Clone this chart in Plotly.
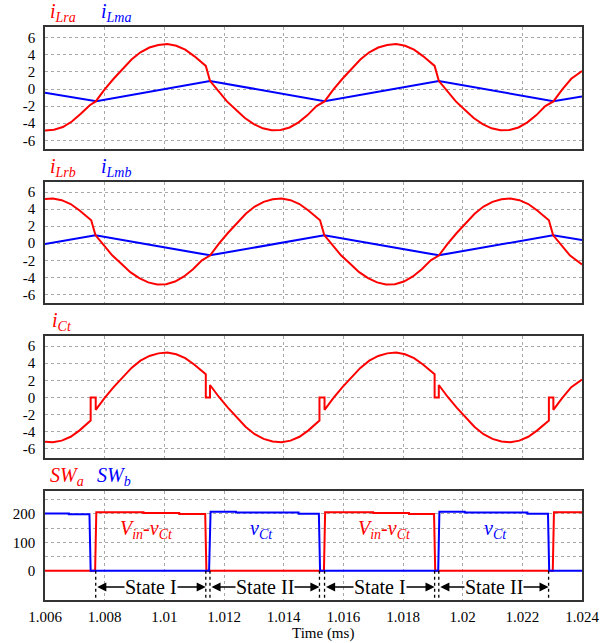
import plotly.graph_objects as go

# ---------------- data ----------------
x_ticks = [1.006, 1.008, 1.010, 1.012, 1.014, 1.016, 1.018, 1.020, 1.022, 1.024]
x_tick_labels = ["1.006", "1.008", "1.01", "1.012", "1.014", "1.016", "1.018", "1.02", "1.022", "1.024"]
i_ticks = [-6, -4, -2, 0, 2, 4, 6]
i_tick_labels = ["-6", "-4", "-2", "0", "2", "4", "6"]
v_ticks = [0, 50, 100, 150, 200, 250]
v_tick_labels = ["0", "", "100", "", "200", ""]

t_ilra = [1.006, 1.0063, 1.0066, 1.0069, 1.0072, 1.0075,
          1.0077, 1.008, 1.0083, 1.0086, 1.0089, 1.0092, 1.0095, 1.0098, 1.0101, 1.0104, 1.0107, 1.011, 1.0112, 1.01139,
          1.01153, 1.0118, 1.0121, 1.0124, 1.0127, 1.013, 1.0133, 1.0136, 1.0139, 1.0142, 1.0145, 1.0148, 1.0151,
          1.01537, 1.01567, 1.01597, 1.01627, 1.01657, 1.01687, 1.01717, 1.01747, 1.01777, 1.01807, 1.01837, 1.01867, 1.01887, 1.01906,
          1.0192, 1.01947, 1.01977, 1.02007, 1.02037, 1.02067, 1.02097, 1.02127, 1.02157, 1.02187, 1.02217, 1.02247, 1.02277,
          1.02304, 1.02334, 1.02364, 1.024]
i_lra = [-4.85, -4.76, -4.45, -3.8, -2.9, -1.9,
         -1.45, -0.05, 1.2, 2.35, 3.45, 4.3, 4.85, 5.15, 5.25, 5.05, 4.6, 3.85, 3.2, 2.7,
         0.95, -0.2, -1.45, -2.42, -3.4, -4.1, -4.6, -4.83, -4.8, -4.5, -3.9, -3.05, -2.0,
         -1.45, -0.05, 1.2, 2.35, 3.45, 4.3, 4.85, 5.15, 5.25, 5.05, 4.6, 3.85, 3.2, 2.7,
         0.95, -0.2, -1.45, -2.42, -3.4, -4.1, -4.6, -4.83, -4.8, -4.5, -3.9, -3.05, -2.0,
         -1.45, -0.05, 1.2, 2.1]

t_ilma = [1.006, 1.00772, 1.01153, 1.01537, 1.0192, 1.02304, 1.024]
i_lma = [-0.45, -1.42, 0.93, -1.42, 0.93, -1.42, -0.88]

t_ilrb = [1.006, 1.00626, 1.00656, 1.00686, 1.00716, 1.00736, 1.00755,
          1.00769, 1.00796, 1.00826, 1.00856, 1.00886, 1.00916, 1.00946, 1.00976, 1.01006, 1.01036, 1.01066, 1.01096, 1.01126,
          1.01153, 1.01183, 1.01213, 1.01243, 1.01273, 1.01303, 1.01333, 1.01363, 1.01393, 1.01423, 1.01453, 1.01483, 1.01503, 1.01522,
          1.01536, 1.01563, 1.01593, 1.01623, 1.01653, 1.01683, 1.01713, 1.01743, 1.01773, 1.01803, 1.01833, 1.01863, 1.01893,
          1.0192, 1.0195, 1.0198, 1.0201, 1.0204, 1.0207, 1.021, 1.0213, 1.0216, 1.0219, 1.0222, 1.0225, 1.0227, 1.02289,
          1.02303, 1.0233, 1.0236, 1.024]
i_lrb = [5.2, 5.25, 5.05, 4.6, 3.85, 3.2, 2.7,
         0.95, -0.2, -1.45, -2.42, -3.4, -4.1, -4.6, -4.83, -4.8, -4.5, -3.9, -3.05, -2.0,
         -1.45, -0.05, 1.2, 2.35, 3.45, 4.3, 4.85, 5.15, 5.25, 5.05, 4.6, 3.85, 3.2, 2.7,
         0.95, -0.2, -1.45, -2.42, -3.4, -4.1, -4.6, -4.83, -4.8, -4.5, -3.9, -3.05, -2.0,
         -1.45, -0.05, 1.2, 2.35, 3.45, 4.3, 4.85, 5.15, 5.25, 5.05, 4.6, 3.85, 3.2, 2.7,
         0.95, -0.2, -1.45, -2.5]

t_ilmb = [1.006, 1.00769, 1.01153, 1.01536, 1.0192, 1.02303, 1.024]
i_lmb = [-0.08, 0.93, -1.42, 0.93, -1.42, 0.93, 0.38]

t_ict = [1.006, 1.00626, 1.00656, 1.00686, 1.00716, 1.00736, 1.00753, 1.00753, 1.0077, 1.0077,
         1.008, 1.0083, 1.0086, 1.0089, 1.0092, 1.0095, 1.0098, 1.0101, 1.0104, 1.0107, 1.011, 1.0112, 1.01139,
         1.01139, 1.01153, 1.01153,
         1.01183, 1.01213, 1.01243, 1.01273, 1.01303, 1.01333, 1.01363, 1.01393, 1.01423, 1.01453, 1.01483, 1.01503, 1.0152,
         1.0152, 1.01537, 1.01537,
         1.01567, 1.01597, 1.01627, 1.01657, 1.01687, 1.01717, 1.01747, 1.01777, 1.01807, 1.01837, 1.01867, 1.01887, 1.01906,
         1.01906, 1.0192, 1.0192,
         1.0195, 1.0198, 1.0201, 1.0204, 1.0207, 1.021, 1.0213, 1.0216, 1.0219, 1.0222, 1.0225, 1.0227, 1.02289,
         1.02289, 1.02304, 1.02304,
         1.02334, 1.02364, 1.024]
i_ct = [-5.17, -5.25, -5.05, -4.6, -3.85, -3.2, -2.7, 0, 0, -1.45,
        -0.05, 1.2, 2.35, 3.45, 4.3, 4.85, 5.15, 5.25, 5.05, 4.6, 3.85, 3.2, 2.7,
        0, 0, 1.45,
        0.05, -1.2, -2.35, -3.45, -4.3, -4.85, -5.15, -5.25, -5.05, -4.6, -3.85, -3.2, -2.7,
        0, 0, -1.45,
        -0.05, 1.2, 2.35, 3.45, 4.3, 4.85, 5.15, 5.25, 5.05, 4.6, 3.85, 3.2, 2.7,
        0, 0, 1.45,
        0.05, -1.2, -2.35, -3.45, -4.3, -4.85, -5.15, -5.25, -5.05, -4.6, -3.85, -3.2, -2.7,
        0, 0, -1.45,
        -0.05, 1.2, 2.1]

t_swa = [1.006, 1.00768, 1.00772, 1.0093, 1.0093, 1.0105, 1.0105, 1.01137, 1.01141,
         1.01535, 1.01539, 1.017, 1.017, 1.0182, 1.0182, 1.01904, 1.01908,
         1.02302, 1.02306, 1.024]
v_swa = [0, 0, 206, 206, 203, 203, 200, 200, 0,
         0, 206, 206, 203, 203, 200, 200, 0,
         0, 206, 206]

t_swb = [1.006, 1.0068, 1.0068, 1.00749, 1.00753, 1.0115, 1.01155, 1.0124, 1.0124, 1.0145, 1.0145, 1.01518, 1.01522,
         1.01918, 1.01922, 1.02007, 1.02007, 1.02217, 1.02217, 1.02286, 1.0229, 1.024]
v_swb = [202, 202, 199, 199, 0, 0, 208, 208, 205, 205, 201, 201, 0,
         0, 208, 208, 205, 205, 201, 201, 0, 0]

boundary_times = [1.0077, 1.01139, 1.01153, 1.0152, 1.01537, 1.01906, 1.0192, 1.02288]
state_starts = [1.0077, 1.01153, 1.01537, 1.0192]
state_ends = [1.01139, 1.0152, 1.01906, 1.02288]
state_names = ["State I", "State II", "State I", "State II"]
state_level = -57

volt_label_x = [1.0094, 1.01325, 1.01739, 1.02109]
volt_label_text = ["<i>V<sub>in</sub>-v<sub>Ct</sub></i>", "<i>v<sub>Ct</sub></i>",
                   "<i>V<sub>in</sub>-v<sub>Ct</sub></i>", "<i>v<sub>Ct</sub></i>"]
volt_label_color = ["#ff0000", "#0000ff", "#ff0000", "#0000ff"]
volt_label_y = 146

# ---------------- figure ----------------
RED = "#ff0000"
BLUE = "#0000ff"
FONT = "Liberation Serif, Times New Roman, Times, DejaVu Serif, serif"

fig = go.Figure()


def add_line(x, y, color, ax):
    fig.add_trace(go.Scatter(x=x, y=y, mode="lines", line=dict(color=color, width=2),
                             xaxis="x" + ax, yaxis="y" + ax, hoverinfo="skip"))


add_line(t_ilma, i_lma, BLUE, "")
add_line(t_ilra, i_lra, RED, "")
add_line(t_ilmb, i_lmb, BLUE, "2")
add_line(t_ilrb, i_lrb, RED, "2")
add_line(t_ict, i_ct, RED, "3")
add_line(t_swa, v_swa, RED, "4")
add_line(t_swb, v_swb, BLUE, "4")

domains = [[0.7866, 0.9995], [0.5178, 0.7300], [0.2483, 0.4613], [0.0, 0.1908]]
axis_common = dict(showline=True, mirror=True, linecolor="#333333", linewidth=1.5,
                   showgrid=True, gridcolor="#a8a8a8", griddash="dot", gridwidth=1,
                   zeroline=False, ticks="outside", ticklen=5, tickcolor="rgba(0,0,0,0)",
                   tickfont=dict(family=FONT, size=15, color="black"))

layout = dict(width=612, height=643, margin=dict(l=45, r=30, t=27, b=43),
              paper_bgcolor="white", plot_bgcolor="white", showlegend=False,
              font=dict(family=FONT))
names = ["", "2", "3", "4"]
for k, nm in enumerate(names):
    xa = dict(axis_common, range=[1.006, 1.024], tickvals=x_ticks, ticktext=x_tick_labels,
              anchor="y" + nm, showticklabels=(nm == "4"), ticklen=2)
    if nm != "":
        xa["matches"] = "x"
    if nm == "4":
        ya = dict(axis_common, range=[-103, 282], tickvals=v_ticks, ticktext=v_tick_labels)
    else:
        ya = dict(axis_common, range=[-7.05, 7.22], tickvals=i_ticks, ticktext=i_tick_labels)
    ya.update(domain=domains[k], anchor="x" + nm)
    layout["xaxis" + nm] = xa
    layout["yaxis" + nm] = ya
fig.update_layout(**layout)

ann = []


def title(ax, x, html, color):
    ann.append(dict(xref="x" + ax + " domain" if ax else "x domain",
                    yref="y" + ax + " domain" if ax else "y domain",
                    x=x, y=1.0, xanchor="left", yanchor="bottom", yshift=0, showarrow=False,
                    text=html, font=dict(family=FONT, size=20, color=color)))


title("", 0.005, "<i>i<sub>Lra</sub></i>", RED)
title("", 0.100, "<i>i<sub>Lma</sub></i>", BLUE)
title("2", 0.005, "<i>i<sub>Lrb</sub></i>", RED)
title("2", 0.100, "<i>i<sub>Lmb</sub></i>", BLUE)
title("3", 0.010, "<i>i<sub>Ct</sub></i>", RED)
title("4", 0.005, "<i>SW<sub>a</sub></i>", RED)
title("4", 0.093, "<i>SW<sub>b</sub></i>", BLUE)

for xv, txt, col in zip(volt_label_x, volt_label_text, volt_label_color):
    ann.append(dict(xref="x4", yref="y4", x=xv, y=volt_label_y, text=txt, showarrow=False,
                    font=dict(family=FONT, size=20, color=col)))

for s, e, nm in zip(state_starts, state_ends, state_names):
    ann.append(dict(xref="x4", yref="y4", axref="x4", ayref="y4", x=e, y=state_level,
                    ax=s, ay=state_level, text="", showarrow=True, arrowhead=2, startarrowhead=2,
                    arrowside="end+start", arrowsize=1.3, arrowwidth=1.4, arrowcolor="black",
                    standoff=0, startstandoff=0))
    ann.append(dict(xref="x4", yref="y4", x=(s + e) / 2, y=state_level, text=nm, showarrow=False,
                    bgcolor="white", borderpad=0,
                    font=dict(family=FONT, size=20, color="black")))

ann.append(dict(xref="paper", yref="paper", x=0.518, y=-0.058, text="Time (ms)", showarrow=False,
                xanchor="center", yanchor="middle", font=dict(family=FONT, size=15, color="black")))

shapes = []
for b in boundary_times:
    shapes.append(dict(type="line", xref="x4", yref="y4", x0=b, x1=b, y0=0, y1=-103,
                       line=dict(color="black", width=1.3, dash="dot")))

fig.update_layout(annotations=ann, shapes=shapes)
fig.write_html("out.html", config={"displayModeBar": False},
               post_script="document.body.style.margin='0';document.body.style.overflow='hidden';")
